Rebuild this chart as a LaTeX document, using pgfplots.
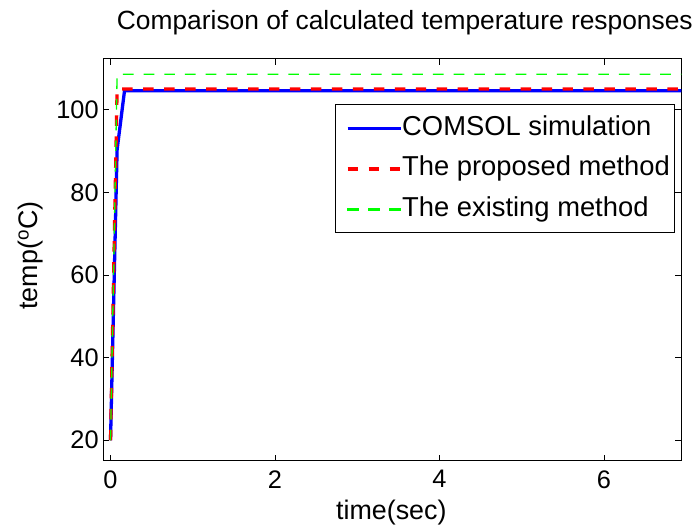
\documentclass[border=0pt]{standalone}
\usepackage{fontspec}
\setmainfont{Liberation Sans}
\usepackage{pgfplots}
\pgfplotsset{compat=1.18}
\definecolor{pgreen}{RGB}{0,255,0}
\begin{document}
\begin{tikzpicture}
\path (0,0) rectangle (696bp,529bp);
\begin{axis}[
  at={(103.3bp,67.3bp)}, anchor=south west,
  width=579.2bp, height=402.7bp, scale only axis,
  xmin=-0.09, xmax=6.94, ymin=15, ymax=112.3,
  xtick={0,2,4,6}, ytick={20,40,60,80,100},
  tick align=inside, major tick length=6bp,
  axis line style={line width=1bp}, every tick/.style={black,line width=0.8bp},
  tick label style={font=\fontsize{25.5}{30}\selectfont},
  /pgf/number format/assume math mode=true,
  xticklabel style={yshift=-6bp},
  yticklabel style={xshift=-1bp},
  legend style={at={(rel axis cs:0.9896,0.8866)}, anchor=north east,
    font=\fontsize{27.5}{30}\selectfont,
    inner xsep=5bp, inner ysep=10.5bp,
    nodes={inner sep=0pt, text height=20bp, text depth=6bp},
    row sep=14.5bp},
  legend cell align=left,
  every axis legend/.append style={line width=1bp},
  /tikz/every even column/.append style={column sep=5.7bp},
  legend image code/.code={\path (0bp,0bp); \draw[#1] (5.3bp,0bp) -- (58.3bp,0bp);},
]
\addlegendimage{draw=blue, line width=3.3bp}
\addlegendentry{COMSOL simulation}
\addlegendimage{draw=red, line width=3.3bp, dash pattern=on 10.5bp off 10.5bp}
\addlegendentry{The proposed method}
\addlegendimage{legend image code/.code={\path (0bp,0bp);
  \fill[pgreen] (5.3bp,-0.7bp) rectangle (16bp,0.7bp);
  \fill[pgreen] (26.3bp,-0.7bp) rectangle (37bp,0.7bp);
  \fill[pgreen] (47.3bp,-0.7bp) rectangle (58bp,0.7bp);}}
\addlegendentry{The existing method}
\addplot[forget plot, blue, line width=3.3bp] coordinates {(0,20) (0.08,90.3) (0.17,104.6) (6.94,104.6)};
\addplot[forget plot, red, line width=3.3bp, dash pattern=on 10.5bp off 10.5bp] coordinates {(0,20) (0.08,105) (6.94,105)};
\addplot[forget plot, pgreen, line width=1.3bp, dash pattern=on 10.7bp off 10bp] coordinates {(0,20) (0.08,108.6) (6.94,108.6)};
\end{axis}
\node[anchor=base, font=\fontsize{26.5}{30}\selectfont] at (405.5bp,499bp) {Comparison of calculated temperature responses};
\node[anchor=base, font=\fontsize{27}{30}\selectfont] at (392bp,9bp) {time(sec)};
\node[anchor=base, rotate=90, font=\fontsize{27}{30}\selectfont] at (37.7bp,273bp) {temp(\textsuperscript{o}C)};
\end{tikzpicture}
\end{document}
